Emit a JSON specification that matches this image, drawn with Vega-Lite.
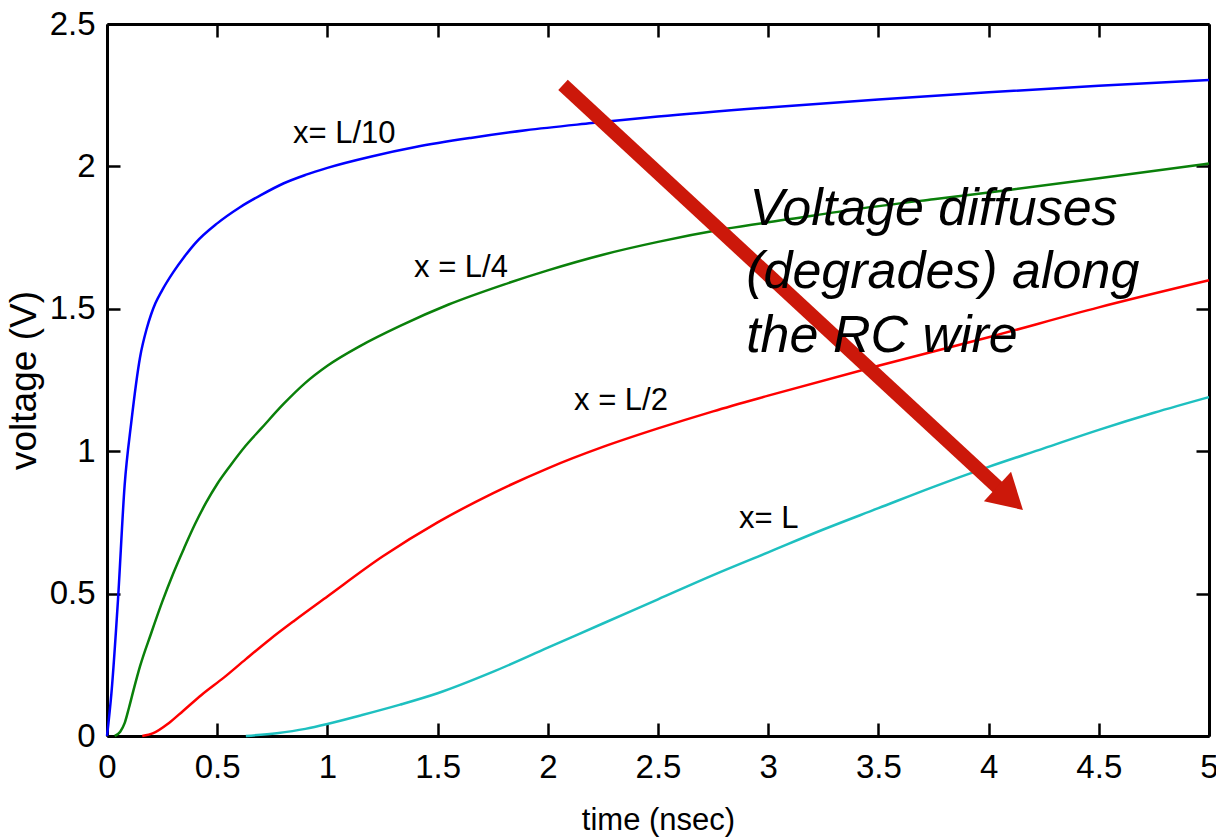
{
  "$schema": "https://vega.github.io/schema/vega-lite/v6.json",
  "width": 1102,
  "height": 712,
  "autosize": {"type": "none"},
  "padding": {"left": 107, "top": 24, "right": 7, "bottom": 101},
  "background": "white",
  "config": {
    "view": {"stroke": null},
    "font": "Liberation Sans",
    "axis": {
      "grid": false,
      "domain": true,
      "domainColor": "black",
      "domainWidth": 3,
      "tickColor": "black",
      "tickWidth": 2.5,
      "tickSize": -13,
      "labelFont": "Liberation Sans",
      "labelFontSize": 33,
      "labelColor": "black",
      "titleFont": "Liberation Sans",
      "titleFontWeight": "normal",
      "titleColor": "black",
      "titleFontSize": 31
    }
  },
  "datasets": {
    "curves": [
      {"t": 0, "v": 0, "s": "L/10"},
      {"t": 0.02, "v": 0.15, "s": "L/10"},
      {"t": 0.05, "v": 0.48, "s": "L/10"},
      {"t": 0.08, "v": 0.88, "s": "L/10"},
      {"t": 0.11, "v": 1.1, "s": "L/10"},
      {"t": 0.15, "v": 1.33, "s": "L/10"},
      {"t": 0.18, "v": 1.43, "s": "L/10"},
      {"t": 0.2, "v": 1.48, "s": "L/10"},
      {"t": 0.22, "v": 1.52, "s": "L/10"},
      {"t": 0.25, "v": 1.565, "s": "L/10"},
      {"t": 0.3, "v": 1.628, "s": "L/10"},
      {"t": 0.35, "v": 1.682, "s": "L/10"},
      {"t": 0.4, "v": 1.73, "s": "L/10"},
      {"t": 0.5, "v": 1.8, "s": "L/10"},
      {"t": 0.6, "v": 1.855, "s": "L/10"},
      {"t": 0.7, "v": 1.9, "s": "L/10"},
      {"t": 0.8, "v": 1.94, "s": "L/10"},
      {"t": 0.9, "v": 1.97, "s": "L/10"},
      {"t": 1.0, "v": 1.995, "s": "L/10"},
      {"t": 1.2, "v": 2.035, "s": "L/10"},
      {"t": 1.4, "v": 2.068, "s": "L/10"},
      {"t": 1.65, "v": 2.1, "s": "L/10"},
      {"t": 1.9, "v": 2.127, "s": "L/10"},
      {"t": 2.2, "v": 2.152, "s": "L/10"},
      {"t": 2.5, "v": 2.175, "s": "L/10"},
      {"t": 3.0, "v": 2.207, "s": "L/10"},
      {"t": 3.5, "v": 2.235, "s": "L/10"},
      {"t": 4.0, "v": 2.26, "s": "L/10"},
      {"t": 4.5, "v": 2.283, "s": "L/10"},
      {"t": 5.0, "v": 2.303, "s": "L/10"},

      {"t": 0.035, "v": 0, "s": "L/4"},
      {"t": 0.06, "v": 0.015, "s": "L/4"},
      {"t": 0.08, "v": 0.045, "s": "L/4"},
      {"t": 0.1, "v": 0.1, "s": "L/4"},
      {"t": 0.12, "v": 0.16, "s": "L/4"},
      {"t": 0.15, "v": 0.245, "s": "L/4"},
      {"t": 0.2, "v": 0.36, "s": "L/4"},
      {"t": 0.25, "v": 0.47, "s": "L/4"},
      {"t": 0.3, "v": 0.57, "s": "L/4"},
      {"t": 0.35, "v": 0.66, "s": "L/4"},
      {"t": 0.4, "v": 0.745, "s": "L/4"},
      {"t": 0.45, "v": 0.82, "s": "L/4"},
      {"t": 0.5, "v": 0.885, "s": "L/4"},
      {"t": 0.56, "v": 0.95, "s": "L/4"},
      {"t": 0.63, "v": 1.02, "s": "L/4"},
      {"t": 0.7, "v": 1.08, "s": "L/4"},
      {"t": 0.8, "v": 1.165, "s": "L/4"},
      {"t": 0.9, "v": 1.24, "s": "L/4"},
      {"t": 1.0, "v": 1.3, "s": "L/4"},
      {"t": 1.15, "v": 1.37, "s": "L/4"},
      {"t": 1.33, "v": 1.44, "s": "L/4"},
      {"t": 1.55, "v": 1.515, "s": "L/4"},
      {"t": 1.8, "v": 1.585, "s": "L/4"},
      {"t": 2.0, "v": 1.635, "s": "L/4"},
      {"t": 2.25, "v": 1.69, "s": "L/4"},
      {"t": 2.5, "v": 1.735, "s": "L/4"},
      {"t": 2.8, "v": 1.78, "s": "L/4"},
      {"t": 3.1, "v": 1.815, "s": "L/4"},
      {"t": 3.4, "v": 1.85, "s": "L/4"},
      {"t": 3.75, "v": 1.885, "s": "L/4"},
      {"t": 4.1, "v": 1.918, "s": "L/4"},
      {"t": 4.5, "v": 1.958, "s": "L/4"},
      {"t": 5.0, "v": 2.01, "s": "L/4"},

      {"t": 0.16, "v": 0, "s": "L/2"},
      {"t": 0.21, "v": 0.01, "s": "L/2"},
      {"t": 0.28, "v": 0.045, "s": "L/2"},
      {"t": 0.345, "v": 0.088, "s": "L/2"},
      {"t": 0.43, "v": 0.145, "s": "L/2"},
      {"t": 0.53, "v": 0.205, "s": "L/2"},
      {"t": 0.63, "v": 0.27, "s": "L/2"},
      {"t": 0.74, "v": 0.34, "s": "L/2"},
      {"t": 0.85, "v": 0.405, "s": "L/2"},
      {"t": 1.0, "v": 0.49, "s": "L/2"},
      {"t": 1.25, "v": 0.63, "s": "L/2"},
      {"t": 1.5, "v": 0.75, "s": "L/2"},
      {"t": 1.75, "v": 0.852, "s": "L/2"},
      {"t": 2.0, "v": 0.94, "s": "L/2"},
      {"t": 2.25, "v": 1.015, "s": "L/2"},
      {"t": 2.5, "v": 1.08, "s": "L/2"},
      {"t": 2.75, "v": 1.14, "s": "L/2"},
      {"t": 3.0, "v": 1.195, "s": "L/2"},
      {"t": 3.5, "v": 1.3, "s": "L/2"},
      {"t": 4.0, "v": 1.4, "s": "L/2"},
      {"t": 4.5, "v": 1.505, "s": "L/2"},
      {"t": 5.0, "v": 1.6, "s": "L/2"},

      {"t": 0.63, "v": 0, "s": "L"},
      {"t": 0.77, "v": 0.01, "s": "L"},
      {"t": 0.9, "v": 0.025, "s": "L"},
      {"t": 1.0, "v": 0.042, "s": "L"},
      {"t": 1.15, "v": 0.072, "s": "L"},
      {"t": 1.33, "v": 0.11, "s": "L"},
      {"t": 1.5, "v": 0.15, "s": "L"},
      {"t": 1.75, "v": 0.225, "s": "L"},
      {"t": 2.0, "v": 0.31, "s": "L"},
      {"t": 2.25, "v": 0.395, "s": "L"},
      {"t": 2.5, "v": 0.48, "s": "L"},
      {"t": 2.75, "v": 0.565, "s": "L"},
      {"t": 3.0, "v": 0.645, "s": "L"},
      {"t": 3.25, "v": 0.725, "s": "L"},
      {"t": 3.5, "v": 0.8, "s": "L"},
      {"t": 3.75, "v": 0.875, "s": "L"},
      {"t": 4.0, "v": 0.945, "s": "L"},
      {"t": 4.25, "v": 1.01, "s": "L"},
      {"t": 4.5, "v": 1.075, "s": "L"},
      {"t": 4.75, "v": 1.135, "s": "L"},
      {"t": 5.0, "v": 1.19, "s": "L"}
    ],
    "labels": [
      {"t": 0.844, "v": 2.082, "label": "x= L/10"},
      {"t": 1.393, "v": 1.612, "label": "x = L/4"},
      {"t": 2.119, "v": 1.145, "label": "x = L/2"},
      {"t": 2.868, "v": 0.73, "label": "x= L"}
    ],
    "note": [
      {"t": 2.915, "v": 1.794, "label": "Voltage diffuses"},
      {"t": 2.9, "v": 1.573, "label": "(degrades) along"},
      {"t": 2.9, "v": 1.348, "label": "the RC wire"}
    ],
    "shaft": [
      {"t1": 2.069, "v1": 2.286, "t2": 4.06, "v2": 0.86}
    ],
    "head": [
      {"t": 4.098, "v": 0.835}
    ]
  },
  "layer": [
    {
      "data": {"name": "curves"},
      "mark": {"type": "line", "strokeWidth": 2.5, "interpolate": "monotone"},
      "encoding": {
        "x": {
          "field": "t", "type": "quantitative",
          "scale": {"domain": [0, 5], "nice": false, "zero": false},
          "axis": {"orient": "bottom", "values": [0, 0.5, 1, 1.5, 2, 2.5, 3, 3.5, 4, 4.5, 5], "format": "~g", "labelPadding": 28, "title": "time (nsec)", "titlePadding": 21, "labelFlush": false}
        },
        "y": {
          "field": "v", "type": "quantitative",
          "scale": {"domain": [0, 2.5], "nice": false, "zero": false},
          "axis": {"orient": "left", "values": [0, 0.5, 1, 1.5, 2, 2.5], "format": "~g", "labelPadding": 25, "title": "voltage (V)", "titlePadding": 6, "titleFontSize": 37, "labelFlush": false}
        },
        "color": {
          "field": "s", "type": "nominal",
          "scale": {"domain": ["L/10", "L/4", "L/2", "L"], "range": ["#0000ff", "#0a800a", "#ff0000", "#1ec0c0"]},
          "legend": null
        },
        "order": {"field": "t", "type": "quantitative"}
      }
    },
    {
      "data": {"name": "shaft"},
      "mark": {"type": "rule", "color": "#cc180a", "strokeWidth": 14, "strokeCap": "butt"},
      "encoding": {
        "x": {"field": "t1", "type": "quantitative", "axis": {"orient": "top", "labels": false, "title": null, "values": [0, 0.5, 1, 1.5, 2, 2.5, 3, 3.5, 4, 4.5, 5]}},
        "y": {"field": "v1", "type": "quantitative", "axis": {"orient": "right", "labels": false, "title": null, "values": [0, 0.5, 1, 1.5, 2, 2.5]}},
        "x2": {"field": "t2"},
        "y2": {"field": "v2"}
      }
    },
    {
      "data": {"name": "head"},
      "mark": {"type": "point", "shape": "triangle-up", "filled": true, "color": "#cc180a", "opacity": 1, "size": 1600, "angle": 132.7},
      "encoding": {
        "x": {"field": "t", "type": "quantitative", "axis": null},
        "y": {"field": "v", "type": "quantitative", "axis": null}
      }
    },
    {
      "data": {"name": "labels"},
      "mark": {"type": "text", "align": "left", "baseline": "alphabetic", "fontSize": 31, "font": "Liberation Sans", "color": "black"},
      "encoding": {
        "x": {"field": "t", "type": "quantitative", "axis": null},
        "y": {"field": "v", "type": "quantitative", "axis": null},
        "text": {"field": "label"}
      }
    },
    {
      "data": {"name": "note"},
      "mark": {"type": "text", "align": "left", "baseline": "alphabetic", "fontSize": 52, "fontStyle": "italic", "font": "Liberation Sans", "color": "black"},
      "encoding": {
        "x": {"field": "t", "type": "quantitative", "axis": null},
        "y": {"field": "v", "type": "quantitative", "axis": null},
        "text": {"field": "label"}
      }
    }
  ],
  "resolve": {"axis": {"x": "independent", "y": "independent"}}
}
